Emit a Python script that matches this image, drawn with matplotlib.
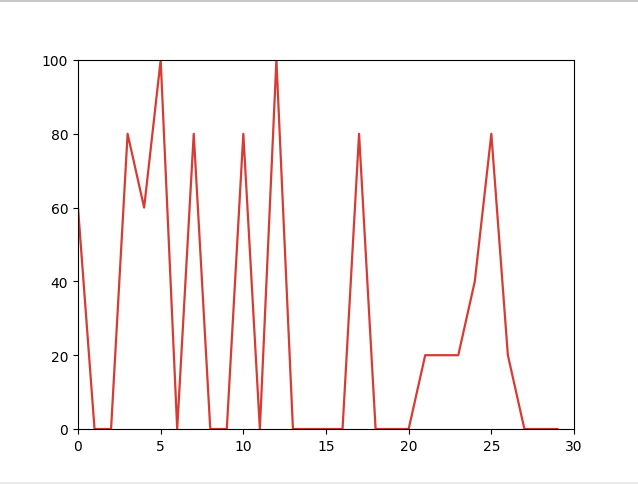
import matplotlib
matplotlib.use("Agg")
import matplotlib.pyplot as plt
from matplotlib.lines import Line2D
from matplotlib.patches import Rectangle

x_values = list(range(30))
y_values = [60, 0, 0, 80, 60, 100, 0, 80, 0, 0,
            80, 0, 100, 0, 0, 0, 0, 80, 0, 0,
            0, 20, 20, 20, 40, 80, 20, 0, 0, 0]
x_ticks = [0, 5, 10, 15, 20, 25, 30]
y_ticks = [0, 20, 40, 60, 80, 100]

fig = plt.figure(figsize=(6.38, 4.85), dpi=100)
W, H = 638, 485
ax = fig.add_axes([78 / W, (H - 430) / H, (574 - 78) / W, (430 - 61) / H])
ax.plot(x_values, y_values, color="#d63b34", linewidth=1.6)
ax.set_xlim(0, 30)
ax.set_ylim(0, 100)
ax.set_xticks(x_ticks)
ax.set_yticks(y_ticks)

# screenshot frame lines
fig.add_artist(Rectangle((0, 1 - 3 / H), 1, 3 / H, transform=fig.transFigure,
                         facecolor="#c8c8c8", edgecolor="none"))
fig.add_artist(Rectangle((0, 0), 1, 2 / H, transform=fig.transFigure,
                         facecolor="#ececec", edgecolor="none"))

fig.savefig("out.png", dpi=100)
